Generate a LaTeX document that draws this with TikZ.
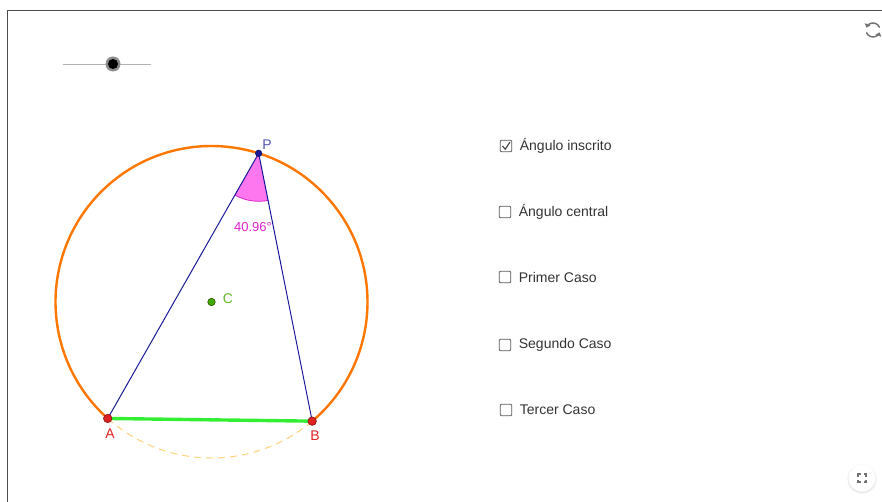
\documentclass[tikz,border=0pt]{standalone}
\usepackage{fontspec}
\setmainfont{Liberation Sans}
\usetikzlibrary{angles, calc, positioning, arrows.meta}

\definecolor{circorange}{HTML}{FF7700}
\definecolor{arcyellow}{HTML}{FFD27A}
\definecolor{segblue}{HTML}{1A1A99}
\definecolor{seggreen}{HTML}{33EE33}
\definecolor{ptred}{HTML}{DD2222}
\definecolor{ptgreen}{HTML}{44AA00}
\definecolor{angmag}{HTML}{DD22CC}
\definecolor{angfill}{HTML}{FF77EE}
\definecolor{txtgray}{HTML}{333333}

\begin{document}
\begin{tikzpicture}[
  x=1pt, y=-1pt,
  frame/.style={draw=black!70, line width=0.8pt},
  seg/.style={draw=segblue, line width=1pt},
  pt/.style={circle, inner sep=0pt, minimum size=#1, line width=0.6pt},
  lbl/.style={font=\fontsize{14}{14}\selectfont, inner sep=1pt},
  chk/.style={draw=black!65, rounded corners=1pt, minimum size=11.5pt, inner sep=0pt, line width=0.8pt},
  opt/.style={font=\fontsize{14}{14}\selectfont, text=txtgray, anchor=west, inner sep=0pt},
  icon/.style={draw=black!55, line width=1.5pt},
]
\useasboundingbox (0,0) rectangle (882,502);

%% Frame
\draw[frame] (882,10) -- (7,10) -- (7,502);

%% Slider
\coordinate (sl) at (63,64);
\coordinate (sr) at (151,64);
\draw[black!30, line width=0.9pt] (sl) -- (sr);
\node[pt=15pt, fill=black!45] (knob) at (113,64) {};
\node[pt=10pt, fill=black] at (knob) {};

%% Circle and points
\coordinate (C) at (211.5,302);
\coordinate (A) at ($(C)+(131.7:156)$);
\coordinate (B) at ($(C)+(49.8:156)$);
\coordinate (P) at ($(C)+(-72.4:156)$);

\draw[circorange, line width=2.4pt] (B) arc[start angle=49.8, end angle=-228.3, radius=156];
\draw[arcyellow, line width=1pt, dash pattern=on 7pt off 5pt] (B) arc[start angle=49.8, end angle=131.7, radius=156];

%% Inscribed angle
\pic[draw=angmag, fill=angfill, line width=0.8pt, angle radius=48pt] {angle=A--P--B};

%% Triangle
\draw[seg] (A) -- (P) -- (B);
\draw[seggreen, line width=3.4pt] (A) -- (B);

\node[pt=8.5pt, fill=ptred, draw=ptred!60!black] (nA) at (A) {};
\node[pt=8.5pt, fill=ptred, draw=ptred!60!black] (nB) at (B) {};
\node[pt=6.5pt, fill=segblue, draw=segblue!70!black] (nP) at (P) {};
\node[pt=7.5pt, fill=ptgreen, draw=ptgreen!50!black] (nC) at (C) {};

\node[lbl, text=segblue!75!white] at (267,145) {P};
\node[lbl, text=ptred] at (110,434) {A};
\node[lbl, text=ptred] at (315,436) {B};
\node[lbl, text=ptgreen!85!white] at (228,299) {C};
\node[lbl, text=angmag, font=\fontsize{13}{13}\selectfont] at (253,227) {40.96°};

%% Options
\node[chk] (c1) at (506,146) {};
\node[chk] (c2) at (505,212) {};
\node[chk] (c3) at (505,277) {};
\node[chk] (c4) at (505,345) {};
\node[chk] (c5) at (506,410) {};
\draw[black!75, line width=1.1pt] ($(c1.center)+(-3.5,0)$) -- ($(c1.center)+(-0.8,3.2)$) -- ($(c1.center)+(4,-4)$);

\node[opt, right=7.5pt of c1] {Ángulo inscrito};
\node[opt, right=7.5pt of c2] {Ángulo central};
\node[opt, right=7.5pt of c3] {Primer Caso};
\node[opt, right=7.5pt of c4] {Segundo Caso};
\node[opt, right=7.5pt of c5] {Tercer Caso};

%% Reset icon
\coordinate (rs) at (873,30);
\draw[icon, -{Triangle[length=3.5pt,width=6pt]}] ($(rs)+(-20:7)$) arc[start angle=-20, end angle=-160, radius=7];
\draw[icon, -{Triangle[length=3.5pt,width=6pt]}] ($(rs)+(160:7)$) arc[start angle=160, end angle=20, radius=7];

%% Fullscreen button
\node[circle, minimum size=29pt, fill=black!8, inner sep=0pt] at (862,479) {};
\node[circle, minimum size=27pt, fill=white, inner sep=0pt] (fs) at (862,478) {};
\foreach \sx/\sy in {-1/-1, 1/-1, 1/1, -1/1}
  \draw[black!55, line width=1.2pt] ($(fs)+(\sx*4,\sy*1.5)$) -- ($(fs)+(\sx*4,\sy*4)$) -- ($(fs)+(\sx*1.5,\sy*4)$);

\end{tikzpicture}
\end{document}
